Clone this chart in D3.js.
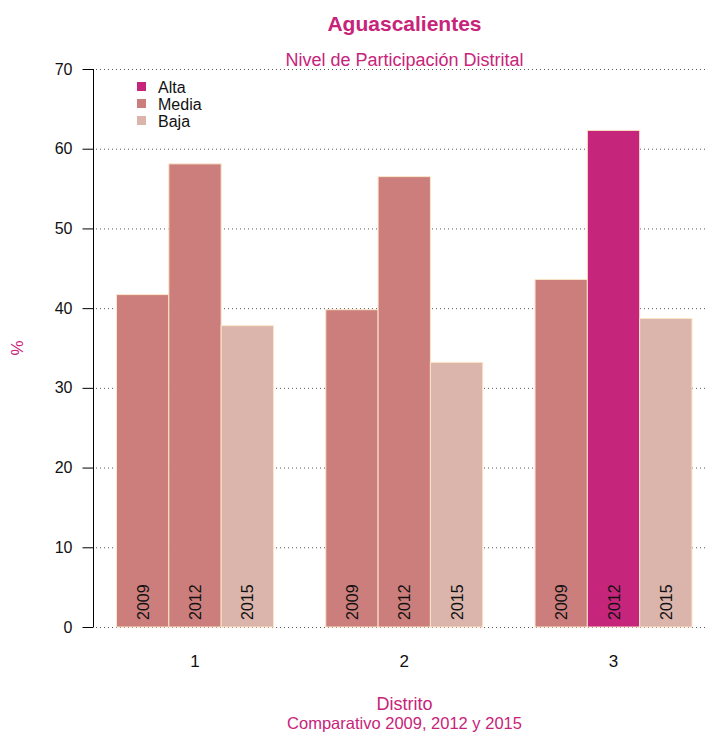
<!DOCTYPE html>
<html>
<head>
<meta charset="utf-8">
<script src="https://cdn.jsdelivr.net/npm/d3@7"></script>
<style>
  body { margin: 0; background: #fff; }
  svg { font-family: "Liberation Sans", Arial, sans-serif; }
</style>
</head>
<body>
<div id="chart"></div>
<script>
"use strict";

// data
let distritos = ["1", "2", "3"];
let years = ["2009", "2012", "2015"];
let valores = [
  [41.7, 58.1, 37.8],
  [39.8, 56.5, 33.2],
  [43.6, 62.3, 38.7]
];
let niveles = [
  ["Media", "Media", "Baja"],
  ["Media", "Media", "Baja"],
  ["Media", "Alta", "Baja"]
];
let legendLabels = ["Alta", "Media", "Baja"];
let yTicks = [0, 10, 20, 30, 40, 50, 60, 70];

let pink = "#c8237a";
let colors = {Alta: "#c5257a", Media: "#cc7e7c", Baja: "#dbb4ab"};

let width = 706, height = 733;

let svg = d3.select("#chart")
.append("svg")
.attr("width", width)
.attr("height", height);

// R style barplot positions: 3 bars per group, 1 bar gap between groups
let bars = [];
for (let g = 0; g < distritos.length; g = g + 1) {
  for (let i = 0; i < years.length; i = i + 1) {
    bars.push({
      pos: g * (years.length + 1) + i,
      value: valores[g][i],
      nivel: niveles[g][i],
      year: years[i]
    });
  }
}

let xScale = d3.scaleLinear()
.domain([-0.44, 11.44])
.range([93.5, 715]);

let yScale = d3.scaleLinear()
.domain([0, 70])
.range([627, 69]);

// dotted gridlines
svg.selectAll("line.grid")
.data(yTicks)
.join("line")
.attr("class", "grid")
.attr("x1", 96)
.attr("x2", width)
.attr("y1", d => yScale(d) + 0.5)
.attr("y2", d => yScale(d) + 0.5)
.attr("stroke", "#555")
.attr("stroke-width", 1)
.attr("stroke-dasharray", "1,3");

// bars
svg.selectAll("rect.bar")
.data(bars)
.join("rect")
.attr("class", "bar")
.attr("x", d => xScale(d.pos))
.attr("width", xScale(1) - xScale(0))
.attr("y", d => yScale(d.value))
.attr("height", d => yScale(0) - yScale(d.value))
.attr("fill", d => colors[d.nivel])
.attr("stroke", "#fbe6c8")
.attr("stroke-width", 1);

// year labels inside bars
svg.selectAll("text.year")
.data(bars)
.join("text")
.attr("class", "year")
.attr("transform", d => "translate(" + (xScale(d.pos + 0.5) + 6) + "," + 620 + ") rotate(-90)")
.attr("font-size", 16)
.attr("fill", "#111")
.text(d => d.year);

// y axis
let yAxis = d3.axisLeft(yScale)
.tickValues(yTicks)
.tickSize(11)
.tickPadding(10);

let yG = svg.append("g")
.attr("transform", "translate(93.5,0)")
.call(yAxis);
yG.select(".domain").attr("d", "M0," + yScale(0) + "V" + yScale(70)).attr("stroke", "#000");
yG.selectAll(".tick line").attr("stroke", "#000");
yG.selectAll(".tick text").attr("font-size", 16).attr("fill", "#111").attr("font-family", "Liberation Sans, Arial, sans-serif");

// group labels
svg.selectAll("text.group")
.data(distritos)
.join("text")
.attr("class", "group")
.attr("x", (d, g) => xScale(g * 4 + 1.5))
.attr("y", 667)
.attr("text-anchor", "middle")
.attr("font-size", 17)
.attr("fill", "#111")
.text(d => d);

// titles
svg.append("text")
.attr("x", 404.5)
.attr("y", 31)
.attr("text-anchor", "middle")
.attr("font-size", 21)
.attr("font-weight", "bold")
.attr("fill", pink)
.text("Aguascalientes");

svg.append("text")
.attr("x", 404.5)
.attr("y", 66)
.attr("text-anchor", "middle")
.attr("font-size", 18)
.attr("fill", pink)
.text("Nivel de Participación Distrital");

svg.append("text")
.attr("x", 404.5)
.attr("y", 710)
.attr("text-anchor", "middle")
.attr("font-size", 18)
.attr("fill", pink)
.text("Distrito");

svg.append("text")
.attr("x", 404.5)
.attr("y", 729)
.attr("text-anchor", "middle")
.attr("font-size", 16.5)
.attr("fill", pink)
.text("Comparativo 2009, 2012 y 2015");

svg.append("text")
.attr("transform", "translate(23,348) rotate(-90)")
.attr("text-anchor", "middle")
.attr("font-size", 17)
.attr("fill", pink)
.text("%");

// legend
for (let i = 0; i < legendLabels.length; i = i + 1) {
  svg.append("rect")
  .attr("x", 137)
  .attr("y", 82 + i * 17)
  .attr("width", 9)
  .attr("height", 9)
  .attr("fill", colors[legendLabels[i]]);

  svg.append("text")
  .attr("x", 158)
  .attr("y", 92.5 + i * 17)
  .attr("font-size", 16)
  .attr("fill", "#111")
  .text(legendLabels[i]);
}
</script>
</body>
</html>
